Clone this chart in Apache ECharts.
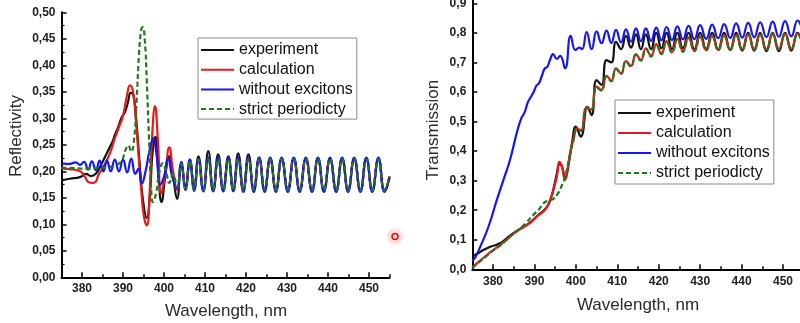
<!DOCTYPE html>
<html><head><meta charset="utf-8">
<script src="https://cdn.jsdelivr.net/npm/echarts@6/dist/echarts.min.js"></script>
<style>html,body{margin:0;padding:0;background:#fff}#c{width:800px;height:323px}</style>
</head><body><div id="c"></div>
<script>
const seriesNames = ['experiment', 'calculation', 'without excitons', 'strict periodicty'];
const xTickLabels = [380, 390, 400, 410, 420, 430, 440, 450];

// ---------- Reflectivity (left panel) ----------
const rExpWl  = [375, 377, 379.5, 381, 382.2, 383.3, 384.4, 385.6, 386.8, 387.4, 388.0, 388.8, 389.7, 390.5, 391.2, 391.9, 392.5, 393.2, 394.0, 394.8, 395.8, 396.6, 397.2, 397.9, 398.6, 399.4, 400.3, 401.2, 402.2];
const rExpVal = [0.183, 0.186, 0.189, 0.195, 0.191, 0.195, 0.208, 0.227, 0.246, 0.255, 0.268, 0.283, 0.302, 0.312, 0.33, 0.348, 0.345, 0.3, 0.22, 0.15, 0.112, 0.16, 0.235, 0.265, 0.2, 0.142, 0.19, 0.228, 0.19];

const rCalcWl  = [375, 377, 379.5, 380.7, 381.5, 382.5, 383.3, 384.0, 385.0, 386.0, 387.0, 388.0, 389.0, 390.0, 390.9, 391.7, 392.4, 393.0, 393.7, 394.4, 395.1, 395.8, 396.5, 397.1, 397.8, 398.5, 399.3, 400.2, 401.3, 402.2];
const rCalcVal = [0.205, 0.204, 0.2, 0.19, 0.18, 0.178, 0.18, 0.193, 0.205, 0.22, 0.238, 0.262, 0.283, 0.305, 0.34, 0.362, 0.352, 0.31, 0.24, 0.17, 0.115, 0.098, 0.16, 0.265, 0.323, 0.26, 0.158, 0.19, 0.245, 0.2];

const rNoExWl  = [375, 377, 378.5, 379.5, 380.5, 381.5, 382.4, 383.4, 384.3, 385.2, 386.1, 387.0, 388.0, 389.0, 390.0, 391.0, 392.0, 393.0, 393.8, 394.6, 395.5, 396.5, 397.4, 398.2, 399.1, 400.0, 401.0, 402.0];
const rNoExVal = [0.215, 0.214, 0.217, 0.212, 0.218, 0.203, 0.219, 0.202, 0.22, 0.2, 0.22, 0.2, 0.222, 0.2, 0.222, 0.198, 0.224, 0.195, 0.205, 0.177, 0.2, 0.24, 0.262, 0.23, 0.175, 0.19, 0.224, 0.19];

const rStrictWl  = [375, 378, 381, 384, 386.5, 388.5, 389.8, 390.6, 391.3, 392.0, 392.7, 393.3, 393.9, 394.4, 394.8, 395.3, 395.8, 396.3, 396.8, 397.3, 398.1, 398.9, 399.7, 400.5, 401.3, 402.2];
const rStrictVal = [0.207, 0.206, 0.205, 0.206, 0.208, 0.212, 0.222, 0.24, 0.249, 0.237, 0.26, 0.33, 0.42, 0.465, 0.472, 0.45, 0.37, 0.27, 0.18, 0.142, 0.16, 0.2, 0.215, 0.2, 0.178, 0.195];

// oscillating part (extrema), shared wavelength list
const rOscWl = [403.2, 404.2, 405.25, 406.3, 407.35, 408.4, 409.6, 410.8, 412.0, 413.2,
                414.45, 415.7, 416.9, 418.1, 419.35, 420.6, 421.9, 423.2, 424.55, 425.9,
                427.3, 428.7, 430.2, 431.65, 433.1, 434.6, 436.1, 437.55, 439.0, 440.5,
                442.0, 443.45, 444.9, 446.4, 447.9, 449.35, 450.8, 452.3, 453.8, 455.0];
const rExpOsc = [0.148, 0.215, 0.172, 0.222, 0.166, 0.228, 0.164, 0.238, 0.163, 0.232,
                 0.165, 0.228, 0.167, 0.234, 0.165, 0.232, 0.166, 0.226, 0.165, 0.225,
                 0.166, 0.224, 0.165, 0.225, 0.165, 0.224, 0.164, 0.225, 0.165, 0.224,
                 0.164, 0.225, 0.165, 0.224, 0.163, 0.225, 0.164, 0.224, 0.162, 0.19];
const rCalcOsc = [0.165, 0.212, 0.17, 0.218, 0.168, 0.222, 0.166, 0.224, 0.166, 0.223,
                  0.166, 0.223, 0.166, 0.223, 0.166, 0.223, 0.166, 0.223, 0.166, 0.222,
                  0.166, 0.222, 0.166, 0.222, 0.166, 0.222, 0.166, 0.222, 0.166, 0.222,
                  0.165, 0.222, 0.165, 0.222, 0.165, 0.222, 0.165, 0.222, 0.165, 0.19];
const rNoExOsc = [0.168, 0.218, 0.165, 0.222, 0.163, 0.224, 0.162, 0.226, 0.162, 0.226,
                  0.162, 0.226, 0.162, 0.226, 0.161, 0.226, 0.161, 0.226, 0.161, 0.226,
                  0.161, 0.226, 0.161, 0.226, 0.161, 0.226, 0.161, 0.226, 0.161, 0.226,
                  0.161, 0.226, 0.161, 0.226, 0.161, 0.226, 0.161, 0.226, 0.161, 0.188];
const rStrictOsc = [0.17, 0.214, 0.168, 0.22, 0.166, 0.222, 0.165, 0.223, 0.165, 0.223,
                    0.165, 0.223, 0.165, 0.223, 0.165, 0.223, 0.165, 0.223, 0.165, 0.223,
                    0.165, 0.223, 0.165, 0.223, 0.165, 0.223, 0.165, 0.223, 0.165, 0.223,
                    0.164, 0.223, 0.164, 0.223, 0.164, 0.223, 0.164, 0.223, 0.164, 0.19];

// ---------- Transmission (right panel) ----------
const tExpWl  = [375, 376.5, 377.65, 379.5, 381.7, 383.3, 384.9, 386.5, 388.1, 389.7, 391.0, 392.3, 393.2, 394.0, 394.8, 395.5, 396.0, 396.6, 397.4, 398.3, 399.1, 400.0, 401.2, 402.8, 403.8];
const tExpVal = [0.043, 0.055, 0.065, 0.077, 0.088, 0.105, 0.122, 0.136, 0.15, 0.167, 0.185, 0.2, 0.215, 0.24, 0.285, 0.33, 0.355, 0.35, 0.31, 0.36, 0.43, 0.483, 0.449, 0.55, 0.522];

const tCalcWl  = [375, 376.5, 378.5, 380, 381.7, 383.3, 384.9, 386.5, 388.9, 390.5, 392.1, 393.0, 393.75, 394.6, 395.4, 396.0, 396.6, 397.4, 397.9, 398.6, 399.5, 400.3, 401.2, 402.6, 403.7];
const tCalcVal = [0.005, 0.025, 0.048, 0.065, 0.082, 0.1, 0.12, 0.136, 0.156, 0.178, 0.195, 0.21, 0.235, 0.27, 0.313, 0.364, 0.35, 0.302, 0.33, 0.393, 0.445, 0.478, 0.468, 0.548, 0.54];

const tNoExWl  = [375, 375.7, 376.9, 378.9, 380.9, 382.5, 384.1, 385.7, 386.8, 387.6, 388.4, 389.1, 389.8, 390.5, 391.1, 391.8, 392.5, 393.1, 393.8, 394.5, 395.4, 396.2, 397.4, 398.75, 399.9, 400.8, 401.5, 402.6, 403.8];
const tNoExVal = [0.028, 0.04, 0.076, 0.144, 0.234, 0.302, 0.37, 0.46, 0.51, 0.53, 0.565, 0.582, 0.6, 0.622, 0.63, 0.655, 0.68, 0.685, 0.71, 0.728, 0.712, 0.722, 0.68, 0.79, 0.742, 0.75, 0.745, 0.803, 0.745];

const tStrictWl  = [375, 376.5, 378.5, 380, 381.7, 383.3, 384.9, 386.5, 388.0, 389.7, 391.2, 392.3, 393.5, 394.6, 395.6, 396.5, 397.4, 398.6, 399.5, 400.3, 401.2, 402.6, 403.7];
const tStrictVal = [0.005, 0.022, 0.046, 0.063, 0.08, 0.1, 0.12, 0.138, 0.158, 0.184, 0.205, 0.225, 0.233, 0.238, 0.255, 0.28, 0.313, 0.39, 0.44, 0.475, 0.47, 0.545, 0.54];

const tOscWl = [405.0, 406.2, 407.4, 408.55, 409.7, 410.9, 412.1, 413.3, 414.5, 415.7,
                416.9, 418.15, 419.4, 420.65, 421.9, 423.2, 424.5, 425.85, 427.2, 428.6,
                430.0, 431.45, 432.9, 434.35, 435.8, 437.25, 438.7, 440.15, 441.6, 443.05,
                444.5, 446.0, 447.5, 449.0, 450.5, 452.0, 453.5, 455.0];
const tExpOsc = [0.64, 0.624, 0.708, 0.70, 0.77, 0.745, 0.79, 0.75, 0.795, 0.745,
                 0.795, 0.745, 0.80, 0.748, 0.80, 0.745, 0.80, 0.748, 0.80, 0.745,
                 0.80, 0.745, 0.80, 0.743, 0.80, 0.742, 0.80, 0.74, 0.80, 0.74,
                 0.80, 0.738, 0.80, 0.738, 0.80, 0.74, 0.80, 0.745];
const tCalcOsc = [0.618, 0.607, 0.655, 0.638, 0.68, 0.663, 0.705, 0.688, 0.728, 0.708,
                  0.748, 0.722, 0.762, 0.73, 0.772, 0.735, 0.78, 0.738, 0.785, 0.74,
                  0.788, 0.742, 0.79, 0.743, 0.792, 0.744, 0.793, 0.745, 0.795, 0.745,
                  0.795, 0.745, 0.797, 0.746, 0.797, 0.746, 0.798, 0.748];
const tNoExOsc = [0.805, 0.765, 0.808, 0.766, 0.81, 0.768, 0.812, 0.77, 0.815, 0.772,
                  0.815, 0.773, 0.818, 0.775, 0.82, 0.776, 0.822, 0.778, 0.824, 0.779,
                  0.826, 0.78, 0.828, 0.782, 0.83, 0.783, 0.832, 0.784, 0.834, 0.785,
                  0.836, 0.786, 0.838, 0.787, 0.84, 0.788, 0.842, 0.79];
const tStrictOsc = [0.615, 0.605, 0.652, 0.636, 0.678, 0.661, 0.703, 0.686, 0.726, 0.706,
                    0.746, 0.72, 0.76, 0.728, 0.77, 0.733, 0.778, 0.736, 0.783, 0.738,
                    0.786, 0.74, 0.788, 0.741, 0.79, 0.742, 0.791, 0.743, 0.793, 0.743,
                    0.793, 0.743, 0.795, 0.744, 0.795, 0.744, 0.796, 0.746];

// ---------- build ----------
function pairs(wlA, vA, wlB, vB) {
  const out = [];
  for (let i = 0; i < Math.min(wlA.length, vA.length); i++) out.push([wlA[i], vA[i]]);
  for (let i = 0; i < Math.min(wlB.length, vB.length); i++) out.push([wlB[i], vB[i]]);
  return out;
}
const colors = ['#111111', '#e8191c', '#1616f0', '#1f7a1f'];
const FONT = "'Liberation Sans', Arial, sans-serif";

function mkSeries(name, idx, data, gi) {
  return {
    type: 'line', name: name, xAxisIndex: gi * 2, yAxisIndex: gi,
    data: data, smooth: 0.5, symbol: 'none', showSymbol: false,
    lineStyle: { color: colors[idx], width: 2.2, type: idx === 3 ? [5, 3] : 'solid' },
    itemStyle: { color: colors[idx] },
    z: 2 + idx
  };
}

const rData = [
  pairs(rExpWl, rExpVal, rOscWl, rExpOsc),
  pairs(rCalcWl, rCalcVal, rOscWl, rCalcOsc),
  pairs(rNoExWl, rNoExVal, rOscWl, rNoExOsc),
  pairs(rStrictWl, rStrictVal, rOscWl, rStrictOsc)
];
const tData = [
  pairs(tExpWl, tExpVal, tOscWl, tExpOsc),
  pairs(tCalcWl, tCalcVal, tOscWl, tCalcOsc),
  pairs(tNoExWl, tNoExVal, tOscWl, tNoExOsc),
  pairs(tStrictWl, tStrictVal, tOscWl, tStrictOsc)
];

const series = [];
seriesNames.forEach((n, i) => series.push(mkSeries(n, i, rData[i], 0)));
seriesNames.forEach((n, i) => series.push(mkSeries(n, i, tData[i], 1)));

const labelStyle = { color: '#222', fontWeight: 'bold', fontSize: 12, fontFamily: FONT };
function xMajor(gi, margin) {
  return {
    type: 'value', gridIndex: gi, position: 'bottom', min: 375, max: 455, splitNumber: 8,
    axisLine: { show: true, onZero: false, lineStyle: { color: '#000', width: 2 } },
    axisTick: { show: true, inside: true, length: 5, lineStyle: { color: '#000', width: 1.5 } },
    axisLabel: Object.assign({ margin: margin, showMinLabel: false, showMaxLabel: false,
      formatter: v => (xTickLabels.indexOf(Math.round(v)) >= 0 && Math.abs(v - Math.round(v)) < 1e-6) ? String(Math.round(v)) : '' }, labelStyle),
    splitLine: { show: false }
  };
}
function xMinor(gi) {
  return {
    type: 'value', gridIndex: gi, position: 'bottom', min: 375, max: 455, interval: 5,
    axisLine: { show: false }, axisLabel: { show: false }, splitLine: { show: false },
    axisTick: { show: true, inside: true, length: 3, lineStyle: { color: '#000', width: 1.5 } }
  };
}
function mkLegend(left, top, padding, gap) {
  return {
    left: left, top: top, orient: 'vertical', data: seriesNames,
    itemWidth: 33, itemHeight: 16, itemGap: gap,
    padding: padding,
    backgroundColor: '#fff', borderColor: '#8a8a8a', borderWidth: 1, borderRadius: 0,
    itemStyle: { color: 'transparent', borderWidth: 0, opacity: 0 },
    textStyle: { fontSize: 16, color: '#111', fontFamily: FONT },
    selectedMode: false
  };
}

const option = {
  animation: false,
  backgroundColor: '#fff',
  textStyle: { fontFamily: FONT },
  grid: [
    { left: 61.5, top: 12.3, width: 328, height: 265, containLabel: false, outerBoundsMode: 'none' },
    { left: 472.3, top: 0.4, width: 331.4, height: 268.9, containLabel: false, outerBoundsMode: 'none' }
  ],
  xAxis: [xMajor(0, 5), xMinor(0), xMajor(1, 6), xMinor(1)],
  yAxis: [
    {
      type: 'value', gridIndex: 0, min: 0, max: 0.5, interval: 0.05,
      axisLine: { show: true, lineStyle: { color: '#000', width: 2 } },
      axisTick: { show: true, inside: true, length: 5, lineStyle: { color: '#000', width: 1.5 } },
      minorTick: { show: true, splitNumber: 2, length: 3, lineStyle: { color: '#000', width: 1.2 } },
      axisLabel: Object.assign({ margin: 6, formatter: v => v.toFixed(2).replace('.', ',') }, labelStyle),
      splitLine: { show: false }
    },
    {
      type: 'value', gridIndex: 1, min: 0, max: 0.91, interval: 0.1,
      axisLine: { show: true, lineStyle: { color: '#000', width: 2 } },
      axisTick: { show: true, inside: true, length: 5, lineStyle: { color: '#000', width: 1.5 } },
      axisLabel: Object.assign({ margin: 6, showMaxLabel: false,
        formatter: v => (Math.abs(v * 10 - Math.round(v * 10)) < 1e-6) ? v.toFixed(1).replace('.', ',') : '' }, labelStyle),
      splitLine: { show: false }
    }
  ],
  legend: [
    mkLegend(198, 38, [4, 4, 2, 2], 3.7),
    mkLegend(615, 100, [5, 4, 3, 2], 4)
  ],
  graphic: [
    { type: 'text', x: 16, y: 136, rotation: Math.PI / 2,
      style: { text: 'Reflectivity', fontSize: 17, fill: '#2a2a2a', fontFamily: FONT, align: 'center', verticalAlign: 'middle' } },
    { type: 'text', x: 226, y: 311,
      style: { text: 'Wavelength, nm', fontSize: 17, fill: '#2a2a2a', fontFamily: FONT, align: 'center', verticalAlign: 'middle' } },
    { type: 'text', x: 433, y: 130, rotation: Math.PI / 2,
      style: { text: 'Transmission', fontSize: 17, fill: '#2a2a2a', fontFamily: FONT, align: 'center', verticalAlign: 'middle' } },
    { type: 'text', x: 638, y: 305,
      style: { text: 'Wavelength, nm', fontSize: 17, fill: '#2a2a2a', fontFamily: FONT, align: 'center', verticalAlign: 'middle' } },
    { type: 'circle', shape: { cx: 395, cy: 236.5, r: 8 }, style: { fill: 'rgba(255,80,80,0.18)' } },
    { type: 'circle', shape: { cx: 395, cy: 236.5, r: 3 }, style: { fill: '#ffd0d0', stroke: '#e01010', lineWidth: 1.5 } }
  ],
  series: series
};
const chart = echarts.init(document.getElementById('c'), null, { renderer: 'canvas' });
chart.setOption(option);
</script></body></html>
